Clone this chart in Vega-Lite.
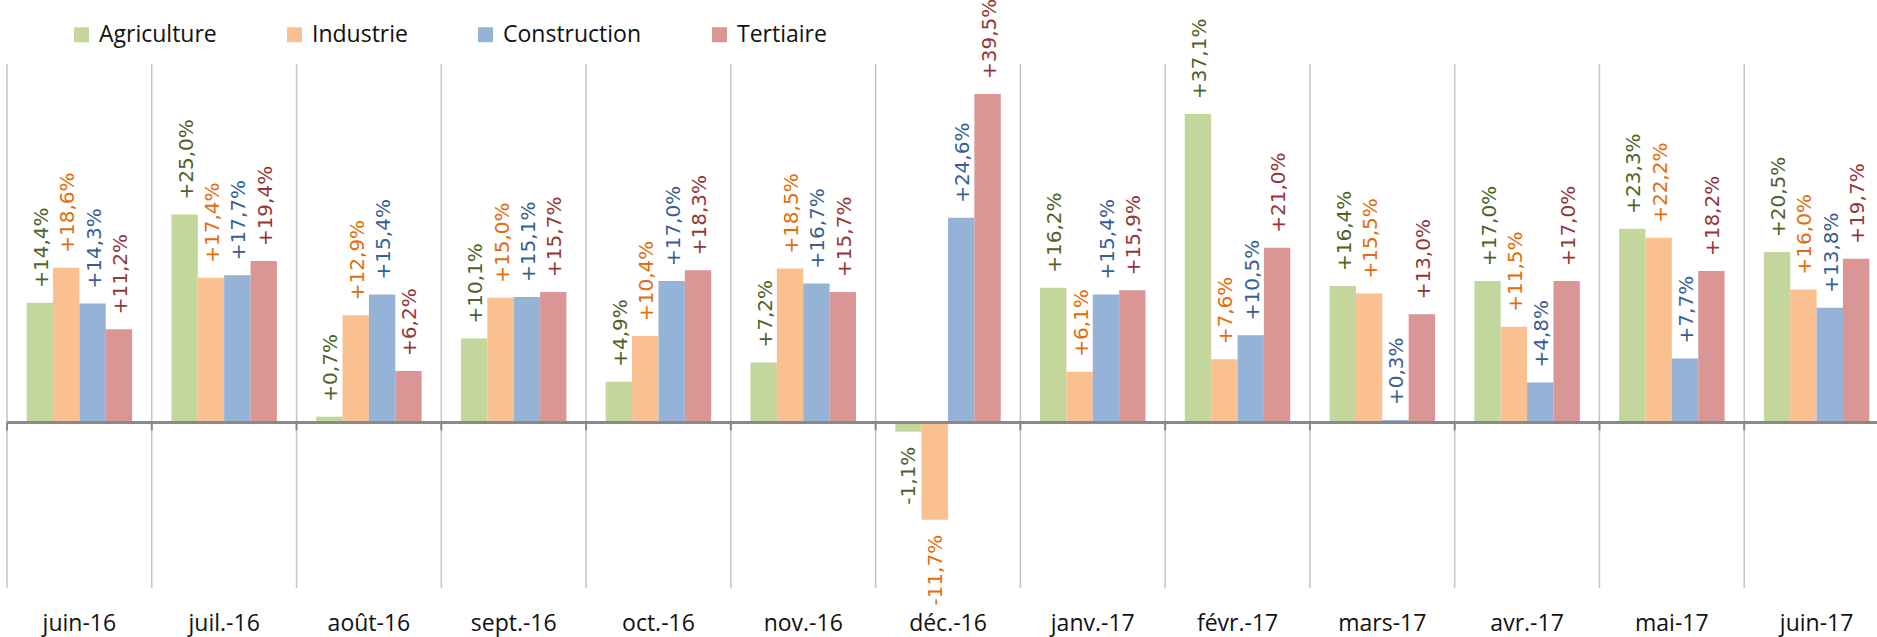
{
  "$schema": "https://vega.github.io/schema/vega-lite/v6.json",
  "width": 1882,
  "height": 524,
  "autosize": {"type": "none"},
  "padding": {"left": 7, "top": 64, "right": 0, "bottom": 49},
  "background": "white",
  "config": {
    "view": {"stroke": null},
    "axisX": {"domain": false, "ticks": false, "tickSize": 0, "grid": false, "title": null, "labelAngle": 0, "labelFont": "Open Sans", "labelFontSize": 23, "labelColor": "#111111", "labelBaseline": "middle", "labelPadding": 35}
  },
  "data": {"values": [
    {"m": "juin-16", "s": "Agriculture", "v": 14.4, "lab": "+14,4%"},
    {"m": "juin-16", "s": "Industrie", "v": 18.6, "lab": "+18,6%"},
    {"m": "juin-16", "s": "Construction", "v": 14.3, "lab": "+14,3%"},
    {"m": "juin-16", "s": "Tertiaire", "v": 11.2, "lab": "+11,2%"},
    {"m": "juil.-16", "s": "Agriculture", "v": 25.0, "lab": "+25,0%"},
    {"m": "juil.-16", "s": "Industrie", "v": 17.4, "lab": "+17,4%"},
    {"m": "juil.-16", "s": "Construction", "v": 17.7, "lab": "+17,7%"},
    {"m": "juil.-16", "s": "Tertiaire", "v": 19.4, "lab": "+19,4%"},
    {"m": "août-16", "s": "Agriculture", "v": 0.7, "lab": "+0,7%"},
    {"m": "août-16", "s": "Industrie", "v": 12.9, "lab": "+12,9%"},
    {"m": "août-16", "s": "Construction", "v": 15.4, "lab": "+15,4%"},
    {"m": "août-16", "s": "Tertiaire", "v": 6.2, "lab": "+6,2%"},
    {"m": "sept.-16", "s": "Agriculture", "v": 10.1, "lab": "+10,1%"},
    {"m": "sept.-16", "s": "Industrie", "v": 15.0, "lab": "+15,0%"},
    {"m": "sept.-16", "s": "Construction", "v": 15.1, "lab": "+15,1%"},
    {"m": "sept.-16", "s": "Tertiaire", "v": 15.7, "lab": "+15,7%"},
    {"m": "oct.-16", "s": "Agriculture", "v": 4.9, "lab": "+4,9%"},
    {"m": "oct.-16", "s": "Industrie", "v": 10.4, "lab": "+10,4%"},
    {"m": "oct.-16", "s": "Construction", "v": 17.0, "lab": "+17,0%"},
    {"m": "oct.-16", "s": "Tertiaire", "v": 18.3, "lab": "+18,3%"},
    {"m": "nov.-16", "s": "Agriculture", "v": 7.2, "lab": "+7,2%"},
    {"m": "nov.-16", "s": "Industrie", "v": 18.5, "lab": "+18,5%"},
    {"m": "nov.-16", "s": "Construction", "v": 16.7, "lab": "+16,7%"},
    {"m": "nov.-16", "s": "Tertiaire", "v": 15.7, "lab": "+15,7%"},
    {"m": "déc.-16", "s": "Agriculture", "v": -1.1, "lab": "-1,1%"},
    {"m": "déc.-16", "s": "Industrie", "v": -11.7, "lab": "-11,7%"},
    {"m": "déc.-16", "s": "Construction", "v": 24.6, "lab": "+24,6%"},
    {"m": "déc.-16", "s": "Tertiaire", "v": 39.5, "lab": "+39,5%"},
    {"m": "janv.-17", "s": "Agriculture", "v": 16.2, "lab": "+16,2%"},
    {"m": "janv.-17", "s": "Industrie", "v": 6.1, "lab": "+6,1%"},
    {"m": "janv.-17", "s": "Construction", "v": 15.4, "lab": "+15,4%"},
    {"m": "janv.-17", "s": "Tertiaire", "v": 15.9, "lab": "+15,9%"},
    {"m": "févr.-17", "s": "Agriculture", "v": 37.1, "lab": "+37,1%"},
    {"m": "févr.-17", "s": "Industrie", "v": 7.6, "lab": "+7,6%"},
    {"m": "févr.-17", "s": "Construction", "v": 10.5, "lab": "+10,5%"},
    {"m": "févr.-17", "s": "Tertiaire", "v": 21.0, "lab": "+21,0%"},
    {"m": "mars-17", "s": "Agriculture", "v": 16.4, "lab": "+16,4%"},
    {"m": "mars-17", "s": "Industrie", "v": 15.5, "lab": "+15,5%"},
    {"m": "mars-17", "s": "Construction", "v": 0.3, "lab": "+0,3%"},
    {"m": "mars-17", "s": "Tertiaire", "v": 13.0, "lab": "+13,0%"},
    {"m": "avr.-17", "s": "Agriculture", "v": 17.0, "lab": "+17,0%"},
    {"m": "avr.-17", "s": "Industrie", "v": 11.5, "lab": "+11,5%"},
    {"m": "avr.-17", "s": "Construction", "v": 4.8, "lab": "+4,8%"},
    {"m": "avr.-17", "s": "Tertiaire", "v": 17.0, "lab": "+17,0%"},
    {"m": "mai-17", "s": "Agriculture", "v": 23.3, "lab": "+23,3%"},
    {"m": "mai-17", "s": "Industrie", "v": 22.2, "lab": "+22,2%"},
    {"m": "mai-17", "s": "Construction", "v": 7.7, "lab": "+7,7%"},
    {"m": "mai-17", "s": "Tertiaire", "v": 18.2, "lab": "+18,2%"},
    {"m": "juin-17", "s": "Agriculture", "v": 20.5, "lab": "+20,5%"},
    {"m": "juin-17", "s": "Industrie", "v": 16.0, "lab": "+16,0%"},
    {"m": "juin-17", "s": "Construction", "v": 13.8, "lab": "+13,8%"},
    {"m": "juin-17", "s": "Tertiaire", "v": 19.7, "lab": "+19,7%"}
  ]},
  "resolve": {"scale": {"color": "independent"}},
  "layer": [
    {
      "transform": [{"filter": "datum.s === 'Agriculture'"}],
      "mark": {"type": "rule", "color": "#c4c4c4", "strokeWidth": 1.5},
      "encoding": {
        "x": {"field": "m", "type": "nominal", "sort": null, "bandPosition": 0,
              "scale": {"type": "band", "paddingInner": 0, "paddingOuter": 0}}
      }
    },
    {
      "mark": {"type": "bar"},
      "encoding": {
        "x": {"field": "m", "type": "nominal", "sort": null,
              "scale": {"type": "band", "paddingInner": 0, "paddingOuter": 0}},
        "xOffset": {"field": "s", "type": "nominal",
                    "scale": {"type": "band", "domain": ["Agriculture", "Industrie", "Construction", "Tertiaire"], "paddingInner": 0, "paddingOuter": 0.745}},
        "y": {"field": "v", "type": "quantitative", "axis": null,
              "scale": {"domain": [-19.9, 43.1], "nice": false, "zero": false}},
        "color": {"field": "s", "type": "nominal",
                  "scale": {"domain": ["Agriculture", "Industrie", "Construction", "Tertiaire"], "range": ["#c3d69b", "#fac090", "#95b3d7", "#d99694"]},
                  "legend": {"orient": "none", "legendX": 63, "legendY": -41, "direction": "horizontal", "title": null,
                             "symbolType": "square", "symbolSize": 225, "symbolStrokeWidth": 0,
                             "labelFont": "Open Sans", "labelFontSize": 23, "labelColor": "#111111",
                             "labelOffset": 6, "columnPadding": 66, "padding": 0}}
      }
    },
    {
      "mark": {"type": "rule", "color": "#898989", "strokeWidth": 2},
      "encoding": {"y": {"datum": 0}}
    },
    {
      "transform": [{"filter": "datum.s === 'Agriculture'"}],
      "mark": {"type": "rule", "color": "#898989", "strokeWidth": 2},
      "encoding": {
        "x": {"field": "m", "type": "nominal", "sort": null, "bandPosition": 0},
        "y": {"datum": 0},
        "y2": {"datum": -0.95}
      }
    },
    {
      "transform": [{"filter": "datum.v >= 0"}],
      "mark": {"type": "text", "angle": 270, "align": "left", "baseline": "middle", "dx": 15, "dy": 2, "font": "DejaVu Sans", "fontSize": 20},
      "encoding": {
        "x": {"field": "m", "type": "nominal", "sort": null},
        "xOffset": {"field": "s", "type": "nominal"},
        "y": {"field": "v", "type": "quantitative"},
        "text": {"field": "lab"},
        "color": {"field": "s", "type": "nominal", "legend": null,
                  "scale": {"domain": ["Agriculture", "Industrie", "Construction", "Tertiaire"], "range": ["#4f6228", "#e46c0a", "#376092", "#953735"]}}
      }
    },
    {
      "transform": [{"filter": "datum.v < 0"}],
      "mark": {"type": "text", "angle": 270, "align": "right", "baseline": "middle", "dx": -15, "dy": 1, "font": "DejaVu Sans", "fontSize": 20},
      "encoding": {
        "x": {"field": "m", "type": "nominal", "sort": null},
        "xOffset": {"field": "s", "type": "nominal"},
        "y": {"field": "v", "type": "quantitative"},
        "text": {"field": "lab"},
        "color": {"field": "s", "type": "nominal", "legend": null,
                  "scale": {"domain": ["Agriculture", "Industrie", "Construction", "Tertiaire"], "range": ["#4f6228", "#e46c0a", "#376092", "#953735"]}}
      }
    }
  ]
}
